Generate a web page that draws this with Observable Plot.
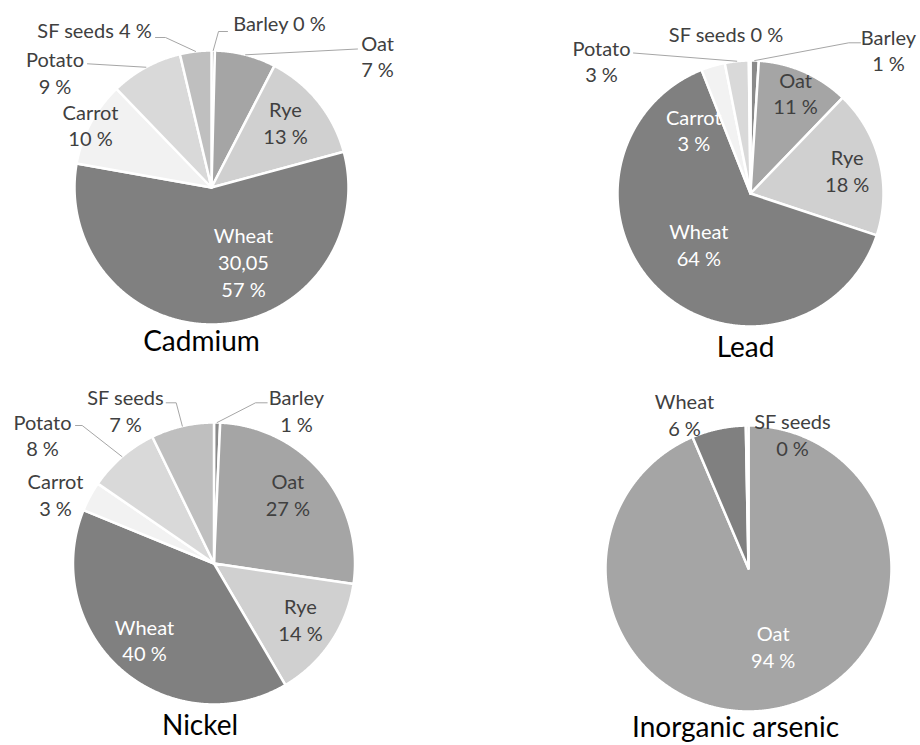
<!DOCTYPE html>
<html><head><meta charset="utf-8">
<script src="https://cdn.jsdelivr.net/npm/d3@7"></script>
<script src="https://cdn.jsdelivr.net/npm/@observablehq/plot@0.6"></script>
<style>body{margin:0;background:#fff}</style>
</head><body><div id="chart"></div>
<script>
// ---------- data ----------
const categories = ["Barley", "Oat", "Rye", "Wheat", "Carrot", "Potato", "SF seeds"];
const metals = ["Cadmium", "Lead", "Nickel", "Inorganic arsenic"];
const cadmium = [0.4, 7.2, 13.2, 57.0, 10.0, 8.5, 3.7];
const lead    = [1.0, 11.2, 17.9, 63.9, 2.9, 2.9, 0.2];
const nickel  = [0.7, 26.6, 14.2, 39.6, 3.4, 8.2, 7.2];
const arsenic = [null, 93.6, null, 6.1, null, null, 0.3];
const extraValueLabels = {"Cadmium": {"Wheat": "30,05"}};

// ---------- styles & layout ----------
const sliceColors = ["#8a8a8a", "#a5a5a5", "#d0d0d0", "#808080", "#f2f2f2", "#d9d9d9", "#bfbfbf"];
const seriesByMetal = {"Cadmium": cadmium, "Lead": lead, "Nickel": nickel, "Inorganic arsenic": arsenic};
const pieLayout = {
  "Cadmium":           {cx: 211,   cy: 187, r: 137, title: [-10, 155]},
  "Lead":              {cx: 750,   cy: 193, r: 133, title: [-5, 155]},
  "Nickel":            {cx: 213.5, cy: 563, r: 141, title: [-14, 163]},
  "Inorganic arsenic": {cx: 748,   cy: 568, r: 143, title: [-13, 160]}
};
// label block centre offsets from pie centre; sep = separator between name & value; light = white text
const labelLayout = {
  "Cadmium": {
    "Barley":   {at: [68, -165], sep: " ", leader: [[16, -156], [7, -156]]},
    "Oat":      {at: [166, -132], sep: "\n", leader: [[146, -138.5]]},
    "Rye":      {at: [74, -65.5], sep: "\n"},
    "Wheat":    {at: [32, 74], sep: "\n", light: true},
    "Carrot":   {at: [-121, -63], sep: "\n"},
    "Potato":   {at: [-156.5, -115.5], sep: "\n", leader: [[-124, -123.7]]},
    "SF seeds": {at: [-117, -158], sep: " ", leader: [[-56, -150], [-46, -150]]}
  },
  "Lead": {
    "Barley":   {at: [138, -144], sep: "\n", leader: [[110, -150.7], [98.3, -150.7]]},
    "Oat":      {at: [45, -101], sep: "\n"},
    "Rye":      {at: [96.7, -23.7], sep: "\n"},
    "Wheat":    {at: [-51.7, 50.3], sep: "\n", light: true},
    "Carrot":   {at: [-56.7, -64.2], sep: "\n", light: true},
    "Potato":   {at: [-149, -133], sep: "\n", leader: [[-117, -140.5]]},
    "SF seeds": {at: [-24.5, -159.7], sep: " "}
  },
  "Nickel": {
    "Barley":   {at: [82.5, -153.3], sep: "\n", leader: [[53.2, -160.7], [41.5, -160.7]]},
    "Oat":      {at: [73.8, -69.3], sep: "\n"},
    "Rye":      {at: [86.5, 55.3], sep: "\n"},
    "Wheat":    {at: [-69.5, 75.8], sep: "\n", light: true},
    "Carrot":   {at: [-158.5, -69.3], sep: "\n"},
    "Potato":   {at: [-171.5, -129], sep: "\n", leader: [[-138.5, -138], [-131.8, -138]]},
    "SF seeds": {at: [-88.5, -153.3], sep: "\n", leader: [[-47.8, -160.7], [-37.8, -160.7]]}
  },
  "Inorganic arsenic": {
    "Oat":      {at: [24.7, 77.5], sep: "\n", light: true},
    "Wheat":    {at: [-64, -154.7], sep: "\n"},
    "SF seeds": {at: [44, -134.7], sep: "\n"}
  }
};

// ---------- build geometry through d3.pie ----------
const pieGen = d3.pie().sort(null).value(d => d.value);
const slicePts = [], leaderPts = [], labels = [], titles = [];
for (const metal of metals) {
  const L = pieLayout[metal];
  const vals = seriesByMetal[metal];
  const items = categories.map((c, i) => ({cat: c, value: vals[i], color: sliceColors[i]}))
                          .filter(d => d.value != null);
  const total = d3.sum(items, d => d.value);
  const arcs = pieGen(items);
  for (const a of arcs) {
    const id = metal + "|" + a.data.cat;
    slicePts.push({id, x: L.cx, y: L.cy, color: a.data.color});
    const n = Math.max(2, Math.ceil((a.endAngle - a.startAngle) / 0.005));
    for (let k = 0; k <= n; k++) {
      const t = a.startAngle + (a.endAngle - a.startAngle) * k / n;
      slicePts.push({id, x: L.cx + L.r * Math.sin(t), y: L.cy - L.r * Math.cos(t), color: a.data.color});
    }
    slicePts.push({id, x: L.cx, y: L.cy, color: a.data.color});

    const lay = labelLayout[metal][a.data.cat];
    const pct = Math.round(a.data.value / total * 100) + " %";
    const extra = (extraValueLabels[metal] || {})[a.data.cat];
    const text = a.data.cat + lay.sep + (extra ? extra + "\n" : "") + pct;
    labels.push({x: L.cx + lay.at[0], y: L.cy + lay.at[1], text, fill: lay.light ? "#ffffff" : "#404040"});
    if (lay.leader) {
      const mid = (a.startAngle + a.endAngle) / 2;
      for (const p of lay.leader) leaderPts.push({id, x: L.cx + p[0], y: L.cy + p[1]});
      leaderPts.push({id, x: L.cx + L.r * Math.sin(mid), y: L.cy - L.r * Math.cos(mid)});
    }
  }
  titles.push({x: L.cx + L.title[0], y: L.cy + L.title[1], text: metal});
}

const chart = Plot.plot({
  width: 920, height: 745, margin: 0,
  x: {domain: [0, 920], range: [0, 920], axis: null},
  y: {domain: [0, 745], range: [0, 745], axis: null},
  color: {type: "identity"},
  style: {fontFamily: "Lato, 'Open Sans', sans-serif", background: "#fff"},
  marks: [
    Plot.line(slicePts, {x: "x", y: "y", z: "id", fill: "color", stroke: "#ffffff", strokeWidth: 2.5}),
    Plot.line(leaderPts, {x: "x", y: "y", z: "id", stroke: "#a6a6a6", strokeWidth: 1}),
    Plot.text(labels, {x: "x", y: "y", text: "text", fill: "fill", fontSize: 20, lineHeight: 1.33}),
    Plot.text(titles, {x: "x", y: "y", text: "text", fill: "#000000", fontSize: 28})
  ]
});
document.getElementById("chart").appendChild(chart);
</script>
</body></html>
